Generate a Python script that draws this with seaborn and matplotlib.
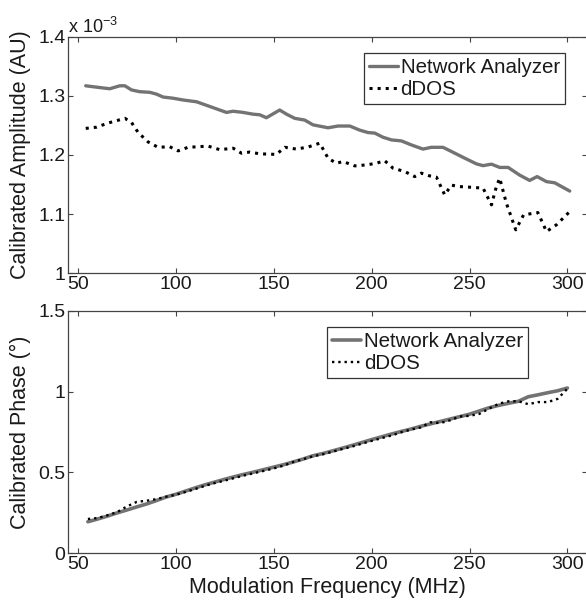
import matplotlib
matplotlib.use("Agg")
import matplotlib.pyplot as plt
import seaborn as sns
import pandas as pd

# ---------------- data ----------------
# Amplitude (x 10^-3 AU)
na_amp_freq = [53.9, 61.1, 66.2, 71.3, 73.9, 77.3, 81.5, 86.6, 90.0, 93.4, 98.5, 103.6,
               110.5, 113.9, 119.0, 125.8, 129.2, 134.3, 139.4, 142.8, 146.2, 153.0,
               156.5, 160.7, 165.8, 170.0, 177.7, 182.8, 188.8, 193.9, 198.1, 201.6,
               205.8, 210.1, 215.2, 220.3, 226.2, 230.5, 236.4, 240.7, 246.7, 253.5,
               256.9, 261.2, 265.4, 269.7, 275.6, 280.7, 284.5, 289.3, 293.5, 301.2]
na_amp = [1.317, 1.314, 1.312, 1.317, 1.317, 1.310, 1.307, 1.306, 1.303, 1.298, 1.296, 1.293,
          1.290, 1.286, 1.280, 1.272, 1.274, 1.272, 1.269, 1.268, 1.263, 1.276,
          1.269, 1.262, 1.259, 1.251, 1.246, 1.249, 1.249, 1.242, 1.238, 1.237,
          1.230, 1.2255, 1.2238, 1.217, 1.210, 1.213, 1.213, 1.206, 1.196, 1.185,
          1.182, 1.1845, 1.179, 1.179, 1.166, 1.157, 1.1635, 1.155, 1.153, 1.139]

ddos_amp_freq = [53.9, 59.4, 65.3, 69.6, 73.9, 77.3, 80.7, 85.8, 90.9, 96.8, 101.1, 106.2,
                 111.3, 116.4, 122.4, 129.2, 133.5, 137.7, 142.8, 151.3, 155.6, 161.5,
                 167.5, 173.5, 177.7, 182.0, 185.4, 191.3, 197.3, 202.4, 206.6, 210.9,
                 216.9, 222.0, 225.4, 229.6, 233.1, 237.3, 240.7, 245.0, 250.1, 256.9,
                 261.2, 263.7, 265.4, 268.8, 273.6, 277.6, 284.9, 289.3, 294.4, 301.2]
ddos_amp = [1.245, 1.247, 1.254, 1.258, 1.262, 1.255, 1.238, 1.222, 1.213, 1.214, 1.207, 1.213,
            1.214, 1.215, 1.209, 1.2115, 1.203, 1.205, 1.202, 1.201, 1.213, 1.210,
            1.2135, 1.220, 1.1946, 1.186, 1.189, 1.1816, 1.1833, 1.186, 1.1905, 1.1777,
            1.172, 1.1635, 1.1693, 1.1647, 1.1625, 1.1326, 1.149, 1.1466, 1.1456, 1.144,
            1.1157, 1.1466, 1.1608, 1.1186, 1.0735, 1.0988, 1.1027, 1.0706, 1.082, 1.1044]

# Phase (degrees)
phase_freq = [55, 60, 65, 70, 75, 80, 85, 90, 95, 100, 105, 110, 115, 120, 125, 130,
              135, 140, 145, 150, 155, 160, 165, 170, 175, 180, 185, 190, 195, 200,
              205, 210, 215, 220, 225, 230, 235, 240, 245, 250, 255, 260, 265, 270,
              275, 280, 285, 290, 295, 300]
na_phase = [0.195, 0.212, 0.230, 0.250, 0.268, 0.287, 0.305, 0.326, 0.348, 0.365, 0.385,
            0.405, 0.424, 0.441, 0.458, 0.474, 0.489, 0.503, 0.518, 0.533, 0.548, 0.565,
            0.583, 0.603, 0.617, 0.633, 0.650, 0.667, 0.685, 0.703, 0.720, 0.737, 0.753,
            0.768, 0.785, 0.800, 0.815, 0.830, 0.845, 0.860, 0.880, 0.900, 0.915, 0.928,
            0.940, 0.968, 0.980, 0.993, 1.005, 1.022]
ddos_phase = [0.212, 0.218, 0.235, 0.255, 0.290, 0.318, 0.325, 0.335, 0.350, 0.362, 0.380,
              0.398, 0.418, 0.435, 0.450, 0.466, 0.482, 0.496, 0.510, 0.525, 0.542, 0.565,
              0.582, 0.600, 0.612, 0.628, 0.645, 0.660, 0.678, 0.695, 0.712, 0.728, 0.748,
              0.765, 0.778, 0.810, 0.805, 0.822, 0.846, 0.850, 0.862, 0.895, 0.925, 0.940,
              0.940, 0.922, 0.935, 0.935, 0.955, 1.018]

x_ticks = [50, 100, 150, 200, 250, 300]
amp_ticks = [1.0, 1.1, 1.2, 1.3, 1.4]
amp_tick_labels = ["1", "1.1", "1.2", "1.3", "1.4"]
phase_ticks = [0, 0.5, 1.0, 1.5]
phase_tick_labels = ["0", "0.5", "1", "1.5"]
series_names = ["Network Analyzer", "dDOS"]

# ---------------- style ----------------
sns.set_style("ticks")
plt.rcParams["font.family"] = ["Liberation Sans", "DejaVu Sans"]
plt.rcParams["mathtext.fontset"] = "custom"
plt.rcParams["mathtext.rm"] = "Liberation Sans"
plt.rcParams["mathtext.it"] = "Liberation Sans"
text_col = "#1a1a1a"
spine_col = "#444444"
gray_col = "#737373"

W, H = 586, 603
fig = plt.figure(figsize=(W / 100, H / 100), dpi=100)

left_px, right_px = 68.3, 587.0
ax1 = fig.add_axes([left_px / W, 1 - 273.3 / H, (right_px - left_px) / W, (273.3 - 36.7) / H])
ax2 = fig.add_axes([left_px / W, 1 - 553.3 / H, (right_px - left_px) / W, (553.3 - 310.7) / H])

df_amp_na = pd.DataFrame({"f": na_amp_freq, "v": na_amp})
df_amp_dd = pd.DataFrame({"f": ddos_amp_freq, "v": ddos_amp})
df_ph = pd.DataFrame({"f": phase_freq, "na": na_phase, "dd": ddos_phase})

sns.lineplot(data=df_amp_na, x="f", y="v", ax=ax1, color=gray_col, linewidth=2.4,
             label=series_names[0])
sns.lineplot(data=df_amp_dd, x="f", y="v", ax=ax1, color="black", linewidth=2.2,
             linestyle=":", label=series_names[1])
sns.lineplot(data=df_ph, x="f", y="na", ax=ax2, color=gray_col, linewidth=2.6,
             label=series_names[0])
sns.lineplot(data=df_ph, x="f", y="dd", ax=ax2, color="black", linewidth=1.7,
             linestyle=":", label=series_names[1])

for ax, yt, ytl, ylim, ylab, leg_anchor in [
    (ax1, amp_ticks, amp_tick_labels, (1.0, 1.4), "Calibrated Amplitude (AU)", (0.9576, 0.931)),
    (ax2, phase_ticks, phase_tick_labels, (0, 1.5), "Calibrated Phase (°)", (0.8868, 0.934)),
]:
    ax.set_xlim(45, 310)
    ax.set_ylim(*ylim)
    ax.set_xticks(x_ticks)
    ax.set_xticklabels([str(t) for t in x_ticks])
    ax.set_yticks(yt)
    ax.set_yticklabels(ytl)
    ax.tick_params(direction="in", length=3.6, width=0.8, color=spine_col,
                   labelsize=14, labelcolor=text_col, top=True, right=True, pad=2)
    for s in ax.spines.values():
        s.set_visible(True)
        s.set_color(spine_col)
        s.set_linewidth(0.9)
    ax.set_ylabel(ylab, fontsize=15.5, color=text_col, labelpad=5)
    ax.set_xlabel("")
    leg = ax.legend(loc="upper right", bbox_to_anchor=leg_anchor, borderaxespad=0,
                    fontsize=14.8, frameon=True, fancybox=False, framealpha=1,
                    handlelength=1.4, handletextpad=0.15, borderpad=0.25,
                    labelspacing=0.15)
    leg.get_frame().set_edgecolor("#333333")
    leg.get_frame().set_linewidth(0.9)
    for t in leg.get_texts():
        t.set_color(text_col)

ax2.set_xlabel("Modulation Frequency (MHz)", fontsize=15.5, color=text_col, labelpad=3)
ax1.text(0.0, 1.0, r"x 10$^{-3}$", transform=ax1.transAxes, ha="left", va="bottom",
         fontsize=13, color=text_col)

fig.savefig("out.png", dpi=100)
